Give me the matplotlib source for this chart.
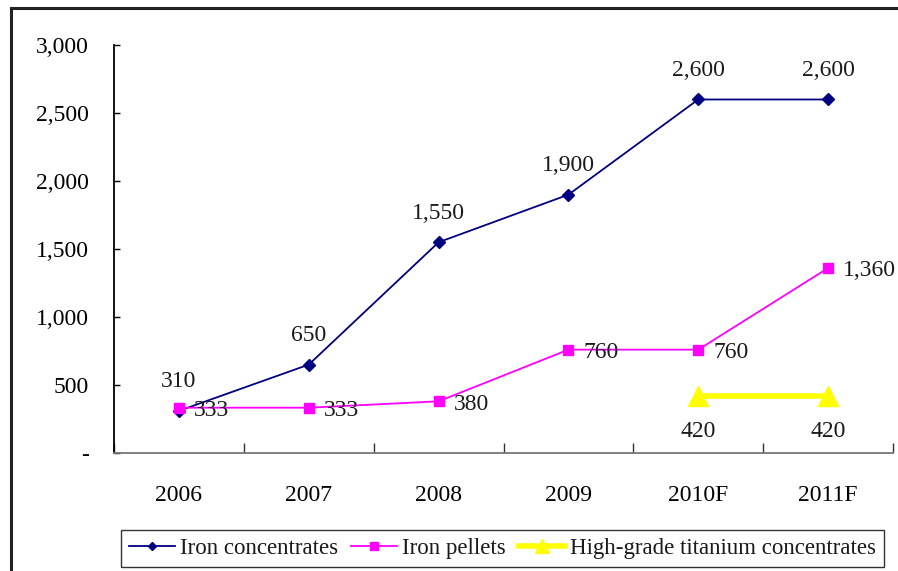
import numpy as np
import matplotlib.pyplot as plt
import matplotlib.ticker as mticker
from matplotlib.patches import Rectangle

years = ["2006", "2007", "2008", "2009", "2010F", "2011F"]
iron_conc = [310, 650, 1550, 1900, 2600, 2600]
iron_pellets = [333, 333, 380, 760, 760, 1360]
titanium = [np.nan, np.nan, np.nan, np.nan, 420, 420]

plt.rcParams["font.family"] = ["Liberation Serif", "DejaVu Serif"]
plt.rcParams["text.color"] = "#1a1a1a"

fig = plt.figure(figsize=(8.98, 5.71), dpi=100)
ax = fig.add_axes([0.127, 0.2067, 0.8674, 0.7143])

x = np.arange(len(years))
ax.plot(x, iron_conc, color="#000080", lw=1.3, marker="D", ms=6,
        label="Iron concentrates")
ax.plot(x, iron_pellets, color="#ff00ff", lw=1.3, marker="s", ms=7.5,
        label="Iron pellets")
ax.plot(x, titanium, color="#ffff00", lw=4, marker="^", ms=14,
        label="High-grade titanium concentrates")

fs = 17
for i, v in enumerate(iron_conc):
    ax.annotate(f"{v:,}", (i, v), xytext=(0, 21), textcoords="offset points",
                ha="center", va="center", fontsize=fs)
for i, v in enumerate(iron_pellets):
    ax.annotate(f"{v:,}", (i, v), xytext=(11, -2), textcoords="offset points",
                ha="left", va="center", fontsize=fs)
for i, v in enumerate(titanium):
    if not np.isnan(v):
        ax.annotate(f"{v:,.0f}", (i, v), xytext=(0, -26), textcoords="offset points",
                    ha="center", va="center", fontsize=fs)

ax.set_xlim(-0.5, len(years) - 0.5)
ax.set_ylim(0, 3000)
ax.set_xticks(x)
ax.set_xticklabels(years)
ax.set_xticks(np.arange(len(years) + 1) - 0.5, minor=True)
ax.set_yticks(np.arange(0, 3001, 500))
ax.yaxis.set_major_formatter(
    mticker.FuncFormatter(lambda v, p: "-" if v == 0 else f"{int(v):,}"))

ax.tick_params(axis="x", which="major", length=0, pad=23, labelsize=fs)
ax.tick_params(axis="x", which="minor", direction="in", length=7, width=1,
               color="#333333")
ax.tick_params(axis="y", direction="in", length=4, width=1, pad=18,
               labelsize=fs)

for s in ["top", "right"]:
    ax.spines[s].set_visible(False)
ax.spines["left"].set_color("black")
ax.spines["left"].set_linewidth(1.3)
ax.spines["bottom"].set_color("#777777")
ax.spines["bottom"].set_linewidth(1.3)

leg = fig.legend(loc="center", bbox_to_anchor=(0.5596, 0.0394), ncol=3,
                 fontsize=16.5, frameon=True, fancybox=False, edgecolor="black",
                 handlelength=2.0, handletextpad=0.2, columnspacing=0.6,
                 borderpad=0.35, borderaxespad=0)
leg.get_frame().set_linewidth(1.0)
for h in leg.legend_handles:
    h.set_markersize(h.get_markersize() * 0.75)

# outer frame around the whole chart
fig.patches.append(Rectangle((0.0122, -0.2), 1.2, 1.186, transform=fig.transFigure,
                             fill=False, edgecolor="#222222", lw=2.2))

fig.savefig("out.png", dpi=100)
